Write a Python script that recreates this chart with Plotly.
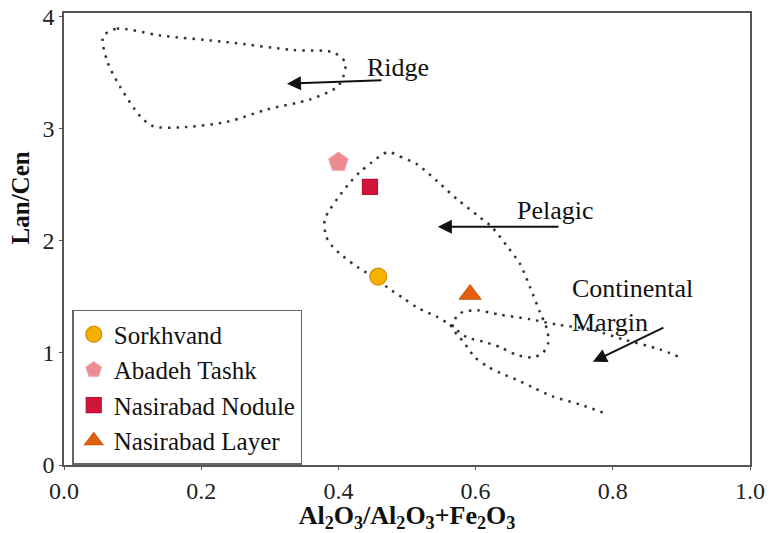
import plotly.graph_objects as go

# Sample compositions: Al2O3/(Al2O3+Fe2O3) vs La_n/Ce_n
sample_names = ["Sorkhvand", "Abadeh Tashk", "Nasirabad Nodule", "Nasirabad Layer"]
sample_x = [0.458, 0.400, 0.446, 0.592]
sample_y = [1.68, 2.70, 2.48, 1.52]
sample_symbols = ["circle", "pentagon", "square", "triangle-up"]
sample_colors = ["#F5B000", "#EE8A92", "#D0143C", "#E1600F"]
sample_edges = ["#D08C00", "#E7A0A6", "#C0102F", "#D2580C"]
sample_sizes = [17, 20, 15, 19]

# Field outlines (Murray-type discrimination fields)
ridge_x = [0.057, 0.077, 0.140, 0.238, 0.334, 0.392, 0.410, 0.407, 0.398, 0.359,
           0.296, 0.238, 0.169, 0.130, 0.111, 0.082, 0.063, 0.057]
ridge_y = [3.82, 3.89, 3.83, 3.77, 3.70, 3.68, 3.59, 3.46, 3.37, 3.26,
           3.17, 3.06, 3.01, 3.02, 3.11, 3.37, 3.60, 3.82]

pelagic_x = [0.472, 0.490, 0.515, 0.544, 0.573, 0.606, 0.624, 0.646, 0.665, 0.679,
             0.694, 0.704, 0.706, 0.698, 0.684, 0.660, 0.636, 0.611, 0.587, 0.563,
             0.544, 0.516, 0.494, 0.472, 0.458, 0.429, 0.407, 0.391, 0.382, 0.380,
             0.388, 0.399, 0.417, 0.431, 0.449, 0.472]
pelagic_y = [2.79, 2.75, 2.68, 2.53, 2.37, 2.21, 2.12, 1.95, 1.79, 1.59,
             1.36, 1.21, 1.09, 1.00, 0.96, 0.98, 1.05, 1.10, 1.14, 1.25,
             1.32, 1.40, 1.49, 1.58, 1.65, 1.76, 1.86, 1.95, 2.04, 2.19,
             2.28, 2.38, 2.52, 2.61, 2.70, 2.79]

margin_low_x = [0.563, 0.573, 0.582, 0.599, 0.617, 0.636, 0.660, 0.684, 0.713, 0.752, 0.789]
margin_low_y = [1.25, 1.16, 1.10, 0.96, 0.88, 0.82, 0.76, 0.69, 0.61, 0.54, 0.46]

margin_up_x = [0.566, 0.570, 0.576, 0.587, 0.602, 0.636, 0.679, 0.720, 0.767, 0.815, 0.869, 0.898]
margin_up_y = [1.23, 1.30, 1.35, 1.37, 1.38, 1.34, 1.30, 1.25, 1.21, 1.12, 1.03, 0.96]

x_ticks = [0.0, 0.2, 0.4, 0.6, 0.8, 1.0]
y_ticks = [0, 1, 2, 3, 4]

SERIF = "Liberation Serif"
DOT = "2.5px,6px"

fig = go.Figure()

for fx, fy in [(ridge_x, ridge_y), (pelagic_x, pelagic_y),
               (margin_low_x, margin_low_y), (margin_up_x, margin_up_y)]:
    fig.add_trace(go.Scatter(
        x=fx, y=fy, mode="lines", showlegend=False, hoverinfo="skip",
        line=dict(color="#333333", width=2.5, dash=DOT, shape="spline", smoothing=0.8),
    ))

for i, name in enumerate(sample_names):
    fig.add_trace(go.Scatter(
        x=[sample_x[i]], y=[sample_y[i]], mode="markers", name=name,
        legendgroup=name,
        marker=dict(symbol=sample_symbols[i], color=sample_colors[i],
                    size=sample_sizes[i],
                    line=dict(color=sample_edges[i], width=1.2)),
    ))

# Field labels and arrows
labels = [
    dict(text="Ridge", x=0.487, y=3.54, tail=(0.465, 3.43), head=(0.325, 3.40)),
    dict(text="Pelagic", x=0.717, y=2.27, tail=(0.723, 2.125), head=(0.545, 2.125)),
]
for lab in labels:
    fig.add_annotation(x=lab["x"], y=lab["y"], text=lab["text"], showarrow=False,
                       font=dict(family=SERIF, size=26, color="#111"))
    fig.add_annotation(x=lab["head"][0], y=lab["head"][1],
                       ax=lab["tail"][0], ay=lab["tail"][1],
                       xref="x", yref="y", axref="x", ayref="y", text="",
                       showarrow=True, arrowhead=2, arrowsize=1.4, arrowwidth=2,
                       arrowcolor="#111")

fig.add_annotation(x=0.737, y=1.42, text="Continental<br>Margin", showarrow=False,
                   xanchor="left", align="left",
                   font=dict(family=SERIF, size=26, color="#111"))
fig.add_annotation(x=0.771, y=0.92, ax=0.876, ay=1.232,
                   xref="x", yref="y", axref="x", ayref="y", text="",
                   showarrow=True, arrowhead=2, arrowsize=1.4, arrowwidth=2,
                   arrowcolor="#111")

# Y-axis title
fig.add_annotation(xref="paper", yref="paper", x=-0.064, y=0.59,
                   xanchor="center", yanchor="middle",
                   text="<b>Lan/Cen</b>", textangle=-90, showarrow=False,
                   font=dict(family=SERIF, size=25, color="#111"))

axis_common = dict(showline=True, mirror=True, linecolor="#555", linewidth=1.5,
                   ticks="outside", ticklen=3, tickcolor="#555", showgrid=False,
                   zeroline=False, automargin=False,
                   tickfont=dict(family=SERIF, size=24, color="#222"))

fig.update_layout(
    width=769, height=533,
    margin=dict(l=64, r=19, t=13, b=68),
    paper_bgcolor="white", plot_bgcolor="white",
    font=dict(family=SERIF),
    xaxis=dict(range=[0, 1], tickvals=x_ticks, tickformat=".1f",
               title=dict(text="<b>Al<sub>2</sub>O<sub>3</sub>/Al<sub>2</sub>O<sub>3</sub>+Fe<sub>2</sub>O<sub>3</sub></b>",
                          font=dict(family=SERIF, size=26, color="#111"),
                          standoff=11),
               **axis_common),
    yaxis=dict(range=[0, 4.03], tickvals=y_ticks, **axis_common),
    legend=dict(x=0.012, y=0.343, xanchor="left", yanchor="top",
                bgcolor="white", bordercolor="#666", borderwidth=1.5,
                font=dict(family=SERIF, size=25, color="#111"),
                itemsizing="trace", tracegroupgap=0),
)

fig.write_html("out.html")
